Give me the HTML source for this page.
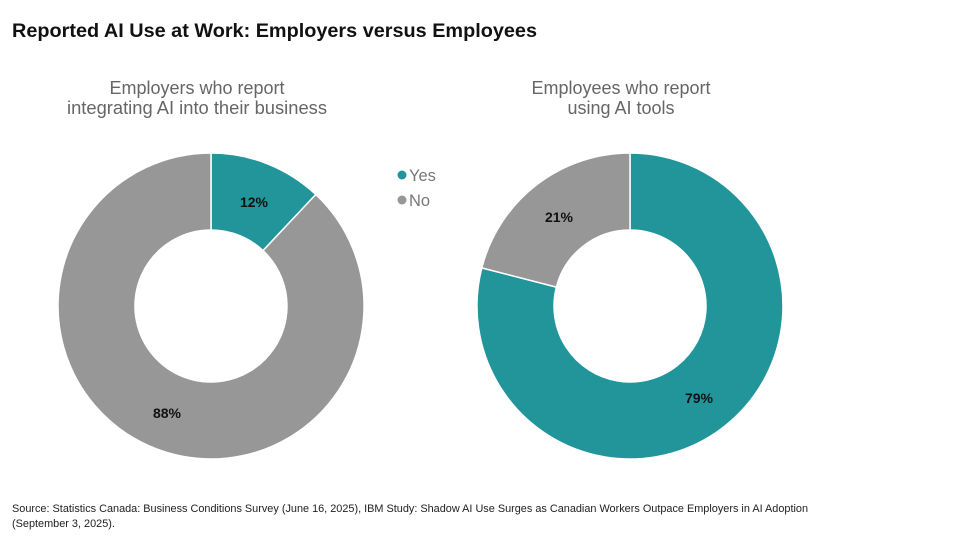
<!DOCTYPE html>
<html><head><meta charset="utf-8"><style>
body{margin:0;width:960px;height:540px;background:#fff;overflow:hidden;font-family:"Liberation Sans",sans-serif;}
</style></head><body>
<svg width="960" height="540" xmlns="http://www.w3.org/2000/svg" style="position:absolute;left:0;top:0">
<text x="12" y="37" font-size="19.8" font-weight="bold" fill="#111" textLength="525" lengthAdjust="spacingAndGlyphs">Reported AI Use at Work: Employers versus Employees</text>
<g font-size="18" fill="#666" text-anchor="middle">
<text x="197" y="94">Employers who report</text>
<text x="197" y="114" textLength="260" lengthAdjust="spacingAndGlyphs">integrating AI into their business</text>
<text x="621" y="94">Employees who report</text>
<text x="621" y="114">using AI tools</text>
</g>
<g stroke="#fff" stroke-width="1.5">
<path d="M211,153 A153,153 0 0 1 315.8,194.5 L263,250.6 A76,76 0 0 0 211,230 Z" fill="#21959A"/>
<path d="M315.8,194.5 A153,153 0 1 1 211,153 L211,230 A76,76 0 1 0 263,250.6 Z" fill="#979797"/>
<path d="M630,153 A153,153 0 1 1 481.8,267.9 L556.4,287.1 A76,76 0 1 0 630,230 Z" fill="#21959A"/>
<path d="M481.8,267.9 A153,153 0 0 1 630,153 L630,230 A76,76 0 0 0 556.4,287.1 Z" fill="#979797"/>
</g>
<g font-size="14" font-weight="bold" fill="#111" text-anchor="middle">
<text x="254" y="207">12%</text>
<text x="167" y="418">88%</text>
<text x="559" y="222">21%</text>
<text x="699" y="403">79%</text>
</g>
<circle cx="402" cy="175" r="4.5" fill="#21959A"/>
<circle cx="402" cy="200" r="4.5" fill="#979797"/>
<g font-size="16.5" fill="#777">
<text x="409" y="181">Yes</text>
<text x="409" y="206">No</text>
</g>
<g font-size="10.9" fill="#222">
<text x="12" y="512" textLength="796" lengthAdjust="spacingAndGlyphs">Source: Statistics Canada: Business Conditions Survey (June 16, 2025), IBM Study: Shadow AI Use Surges as Canadian Workers Outpace Employers in AI Adoption</text>
<text x="12" y="527">(September 3, 2025).</text>
</g>
</svg>
</body></html>
